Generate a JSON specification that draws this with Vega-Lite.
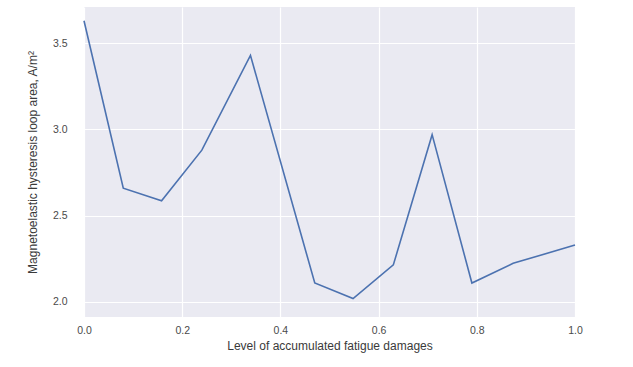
{
  "$schema": "https://vega.github.io/schema/vega-lite/v6.json",
  "autosize": {"type": "none"},
  "width": 491,
  "height": 310,
  "padding": {"left": 84, "top": 7, "right": 58, "bottom": 50},
  "background": "white",
  "config": {
    "view": {"fill": "#EAEAF2", "stroke": null},
    "axis": {
      "domain": false,
      "ticks": false,
      "labelFlush": false,
      "labelOverlap": false,
      "gridColor": "white",
      "gridWidth": 1.2,
      "labelFont": "Liberation Sans",
      "titleFont": "Liberation Sans",
      "labelFontSize": 10.5,
      "titleFontSize": 12,
      "titleFontWeight": "normal",
      "labelColor": "#4a4a4a",
      "titleColor": "#3a3a3a"
    }
  },
  "data": {
    "values": [
      {"x": 0.0, "y": 3.63},
      {"x": 0.08, "y": 2.66},
      {"x": 0.158, "y": 2.587},
      {"x": 0.24, "y": 2.88},
      {"x": 0.339, "y": 3.43},
      {"x": 0.47, "y": 2.11},
      {"x": 0.548, "y": 2.02},
      {"x": 0.63, "y": 2.215},
      {"x": 0.709, "y": 2.97},
      {"x": 0.79, "y": 2.11},
      {"x": 0.874, "y": 2.224},
      {"x": 1.0, "y": 2.33}
    ]
  },
  "mark": {"type": "line", "color": "#4C72B0", "strokeWidth": 1.6},
  "encoding": {
    "x": {
      "field": "x",
      "type": "quantitative",
      "scale": {"domain": [0, 1], "nice": false, "zero": false},
      "axis": {
        "title": "Level of accumulated fatigue damages",
        "values": [0, 0.2, 0.4, 0.6, 0.8, 1.0],
        "format": ".1f",
        "labelPadding": 8,
        "titlePadding": 5
      }
    },
    "y": {
      "field": "y",
      "type": "quantitative",
      "scale": {"domain": [1.913, 3.71], "nice": false, "zero": false},
      "axis": {
        "title": "Magnetoelastic hysteresis loop area, A/m²",
        "values": [2.0, 2.5, 3.0, 3.5],
        "format": ".1f",
        "labelPadding": 17,
        "titlePadding": 13
      }
    }
  }
}
